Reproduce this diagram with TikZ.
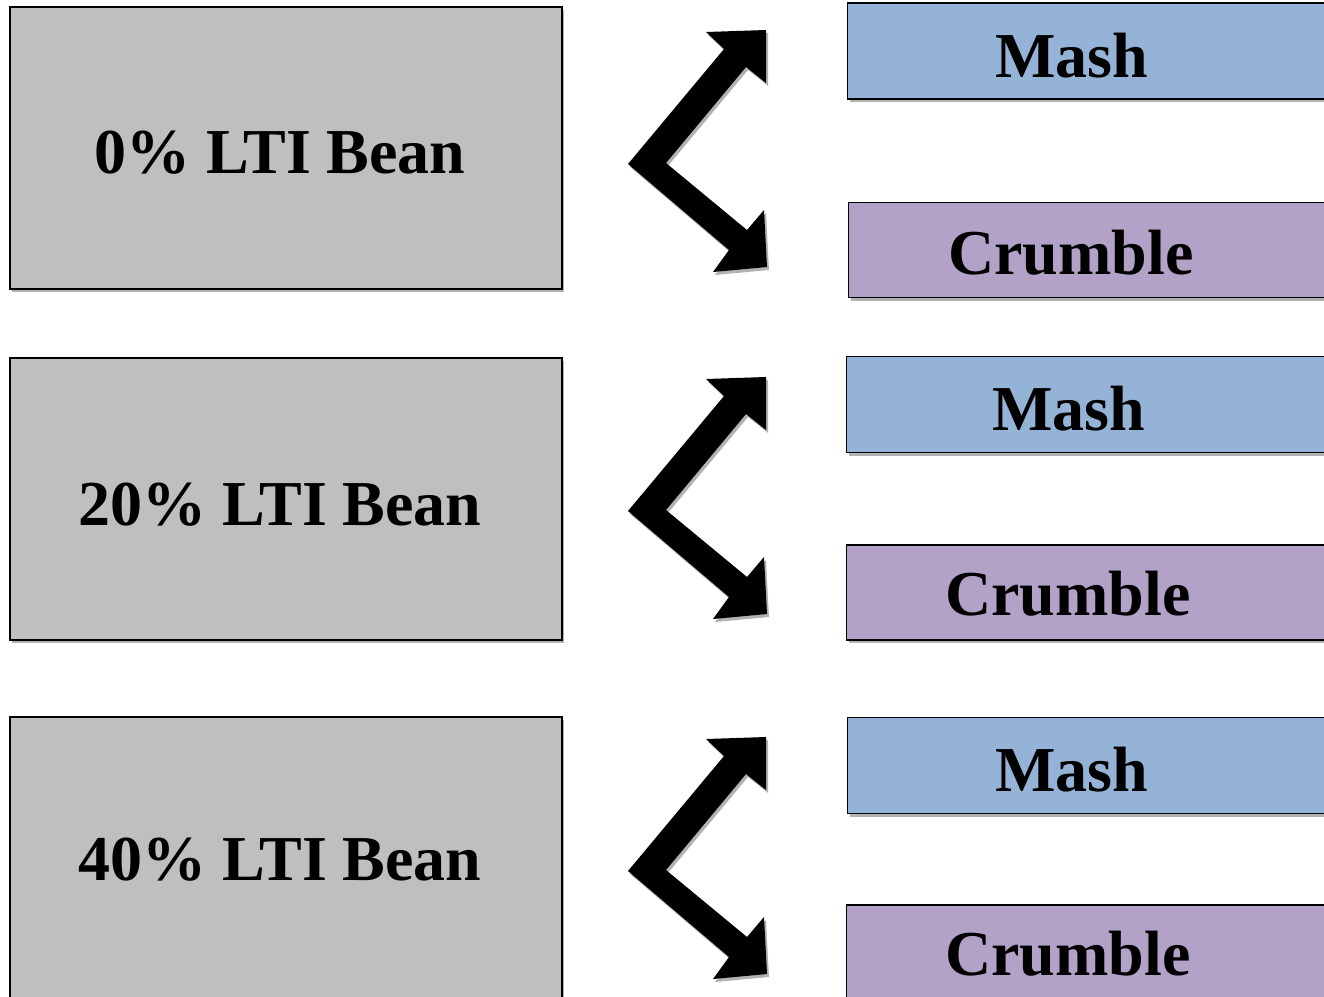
\documentclass[tikz,border=0pt]{standalone}
\usepackage{fontspec}
\setmainfont{Liberation Serif}
\usetikzlibrary{shadows}
\definecolor{beangray}{HTML}{BFBFBF}
\definecolor{mashblue}{HTML}{95B3D7}
\definecolor{crumblepurple}{HTML}{B2A2C7}
\tikzset{
  x=1pt, y=-1pt,
  softshadow/.style={drop shadow={shadow xshift=2pt, shadow yshift=-3pt, opacity=0.3, fill=black}},
  beanbox/.style={draw=black, line width=1.6pt, fill=beangray, minimum width=552pt, minimum height=282pt, inner sep=0pt, softshadow},
  mashbox/.style={draw=black, line width=1.4pt, fill=mashblue, minimum width=500pt, minimum height=96pt, inner sep=0pt, anchor=west, softshadow},
  crumblebox/.style={draw=black, line width=1.4pt, fill=crumblepurple, minimum width=500pt, minimum height=95pt, inner sep=0pt, anchor=west, softshadow},
  label text/.style={font=\fontsize{64}{70}\selectfont\bfseries, anchor=base, inner sep=0pt},
  splitarrow/.style={fill=black, softshadow}
}
\begin{document}
\begin{tikzpicture}
\useasboundingbox (0,0) rectangle (1324,996);
\clip (0,0) rectangle (1324,996);

% bean formulation boxes
\node[beanbox] (bean0) at (286,148) {};
\node[beanbox] (bean20) at (286,499) {};
\node[beanbox] (bean40) at (286,858) {};
\node[label text] (t0) at (280,173) {0\% LTI Bean};
\node[label text] (t20) at (280,525) {20\% LTI Bean};
\node[label text] (t40) at (280,880) {40\% LTI Bean};

% texture boxes
\node[mashbox] (mash1) at (847,51) {};
\node[crumblebox] (crumble1) at (848,250) {};
\node[mashbox] (mash2) at (846,404.5) {};
\node[crumblebox] (crumble2) at (846,592.5) {};
\node[mashbox] (mash3) at (847,765.5) {};
\node[crumblebox] (crumble3) at (846,952.5) {};
\node[label text] (tm1) at (1072,77) {Mash};
\node[label text] (tc1) at (1071,274) {Crumble};
\node[label text] (tm2) at (1069,430) {Mash};
\node[label text] (tc2) at (1068,615) {Crumble};
\node[label text] (tm3) at (1072,791) {Mash};
\node[label text] (tc3) at (1068,975) {Crumble};

% bent double arrows splitting each bean into two textures
\foreach \dy in {0,347,707} {
  \fill[splitarrow, yshift=-\dy pt]
    (628,164) -- (724,49) -- (706,32) -- (766,30) -- (766,83) -- (746,67)
    -- (666,163) -- (747,230) -- (764,210) -- (767,267) -- (713,272)
    -- (729,250) -- cycle;
}
\end{tikzpicture}
\end{document}
